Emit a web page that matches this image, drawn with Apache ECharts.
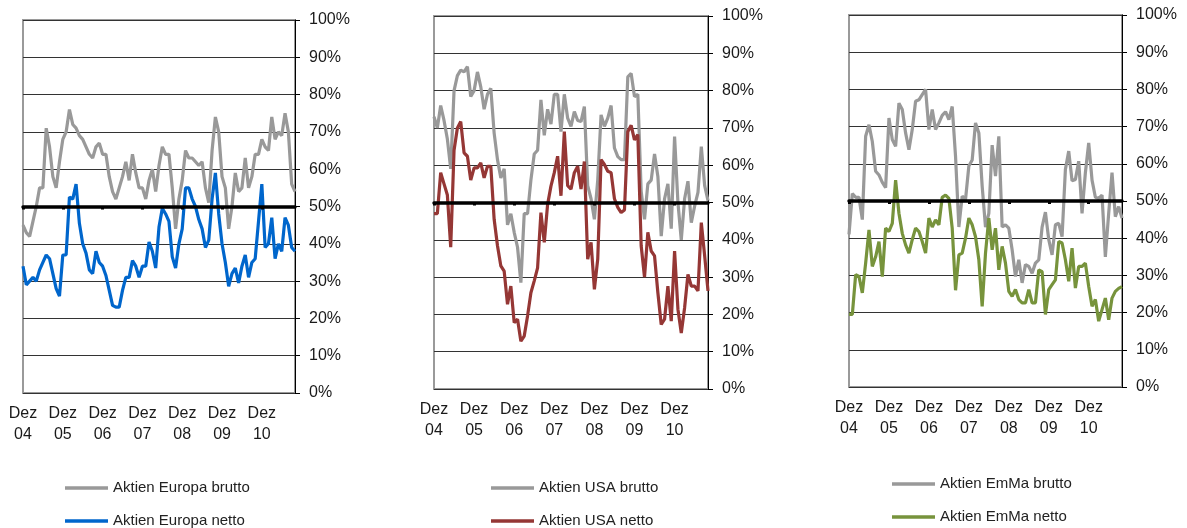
<!DOCTYPE html>
<html><head><meta charset="utf-8">
<script src="https://cdn.jsdelivr.net/npm/echarts@6/dist/echarts.min.js"></script>
<style>html,body{margin:0;padding:0;background:#fff}#c{width:1187px;height:528px}</style>
</head><body><div id="c"></div><script>
// ---- data (percent) ----
const yearLabels = ['04','05','06','07','08','09','10','11'];
const monthNames = ['Dez','Jan','Feb','Mär','Apr','Mai','Jun','Jul','Aug','Sep','Okt','Nov'];
const yTickLabels = ['0%','10%','20%','30%','40%','50%','60%','70%','80%','90%','100%'];

const eurBrutto = [45,43,42,46,50,55,55,71,66,58, 55,62,68,70,76,72,71,69,68,66, 64,63,66,67,64,64,58,54,52,55,
  58,62,57,64,59,55,55,52,57,60, 54,61,66,64,64,55,44,52,57,65, 63,63,62,61,62,55,51,65,74,70,
  58,55,44,50,59,54,55,63,55,58, 64,64,68,66,65,74,68,70,69,75, 70,56,54];
const eurNetto = [34,29,30,31,30,33,35,37,36,32, 28,26,37,37,52.5,52,56,45.5,40,37.5, 33,32,38,35,34,31.5,27.5,23.5,23,23,
  27.5,31,31,35.5,34,31,34,34,40.5,38, 33.5,44.5,49.5,48,46,36.5,33.5,40,44,55, 55,52,50,46.5,44,39,41,52,59,48,
  40,35,28.6,32,33.5,29.5,34,37,31,35, 36,46,56,39,40,47,36,40,38,47, 45,39,38];
const usaBrutto = [73,70,76,72,67,59,80,84,85.5,85, 86.4,78.4,80,85,81,75,79,80.6,68.6,61.5, 56.6,59,44,47,42,38,28.5,47,47,56,
  63,64,77.5,68,75,71,79,79,69,79, 72.6,70.4,74.4,72,71.7,75.7,54.5,51,45.5,56, 73.5,70.4,72.6,76,64.6,62.3,61.5,61.5,83.7,84.6,
  78.4,79,53,45.5,55,56,63,57,41,51, 55,43,67.7,50,40,51,55.7,44.6,49,52.7, 65,54.5,50.5];
const usaNetto = [47,47,58,55,52,38,64,70,71.7,63.3, 62.4,56,59.3,59.3,60.6,56.6,59.7,59.7,45.5,38.4, 33,31.6,22.7,27.6,17.8,18.7,12.8,14.2,19.6,25.8,
  29,32.5,47.3,39.3,49.5,54.4,58,62.4,51.8,69, 54.5,53.6,58,59.7,53.6,61,34.8,39.3,26.7,34.8, 61.5,60.2,58.4,58,51,48.7,47.3,48,69,70.7,
  66.8,68.2,38.4,30,42,37,35.7,25.8,17.3,18.7, 27.6,18.2,37,21.4,15,21.8,30.7,27.6,27.6,26.3, 44.6,35.7,26.3];
const emmaBrutto = [41,52,51,51,45,67.4,70.5,66,58,57, 55,53.6,72.3,66.5,64.7,76.3,74.6,68.3,63.8,69.2, 76.8,77.2,78.6,80,69.2,74.6,69.2,71,73,74,
  71.9,75.4,62,43,51.3,50.4,59.4,61,71,68.3, 54,43,46.7,65,56.7,67.4,43,43.6,42.7,36.9, 29.7,34.2,28,32.9,32.4,30.6,33.3,34.2,43,47,
  39.6,35.5,43.6,44,40.4,58.5,63.4,55.4,55.8,60.7, 46.7,57.6,65.6,55.6,51,50.7,51.6,35,46.7,57.6, 45.8,48.5,45.4];
const emmaNetto = [19.5,19.5,30.2,29.7,25.3,33.3,42.2,32.4,35,39.1, 29.7,42.7,41.8,44,55.6,46.7,41.3,38.2,36,39.6, 42.7,41.8,39.1,36,45.4,43,44.9,43.6,51,51.6,
  50.7,42.7,26,35.5,36,40,45.4,43.6,40.4,34.2, 21.7,36,45.4,36.9,42.7,31.5,37.8,33.3,25.7,24.4, 26.2,23.5,22.6,22.6,26.2,22.6,22.6,31.5,31,19.5,
  26.2,27.5,28.8,39.1,38.7,34.2,28.4,37.3,26.6,32.4, 32.4,33.3,27,21.7,23.5,17.7,20.8,23.9,18.1,23.9, 25.7,26.5,27];

const panels = [
  {names:['Aktien Europa brutto','Aktien Europa netto'], data:[eurBrutto, eurNetto], color:'#0066CC'},
  {names:['Aktien USA brutto','Aktien USA netto'], data:[usaBrutto, usaNetto], color:'#953735'},
  {names:['Aktien EmMa brutto','Aktien EmMa netto'], data:[emmaBrutto, emmaNetto], color:'#77933C'}
];

const categories = [];
for (let i = 0; i < eurBrutto.length; i++) {
  categories.push(monthNames[i % 12] + ' ' + yearLabels[Math.floor((i + 11) / 12)]);
}

// ---- layout ----
const grids = [
  {left:23, top:20, width:272, height:373},
  {left:434, top:16, width:274, height:373},
  {left:849, top:15, width:273, height:372}
];
const legendPos = [{left:65, top:480},{left:491, top:480},{left:892, top:476}];
const FONT = '"Liberation Sans", Arial, sans-serif';
const GREY = '#999999';

const option = {animation:false, backgroundColor:'#fff', grid:[], xAxis:[], yAxis:[], series:[], legend:[]};
panels.forEach((p, k) => {
  const g = grids[k];
  option.grid.push(Object.assign({show:true, borderColor:'#9a9a9a', borderWidth:2, backgroundColor:'transparent'}, g));
  // bottom category axis with labels
  option.xAxis.push({type:'category', gridIndex:k, data:categories, boundaryGap:false,
    axisLine:{show:false}, axisTick:{show:false}, splitLine:{show:false},
    axisLabel:{interval:11, margin:10, fontSize:16, lineHeight:21, color:'#1a1a1a', fontFamily:FONT,
      formatter:v => v.replace(' ', '\n')}});
  // axis crossing at 50%
  option.xAxis.push({type:'category', gridIndex:k, data:categories, boundaryGap:false, position:'bottom',
    offset:-g.height/2,
    axisLine:{show:true, onZero:false, lineStyle:{color:'#000', width:3.5}},
    axisTick:{show:true, interval:11, length:3, lineStyle:{color:'#000', width:3}},
    axisLabel:{show:false}, splitLine:{show:false}, z:5});
  option.yAxis.push({type:'value', gridIndex:k, position:'right', min:0, max:100, interval:10,
    axisLine:{show:true, lineStyle:{color:'#000', width:1}},
    axisTick:{show:true, length:5, lineStyle:{color:'#000'}},
    splitLine:{show:true, lineStyle:{color:'#333', width:1}},
    axisLabel:{margin:14, fontSize:16, color:'#1a1a1a', fontFamily:FONT,
      formatter:v => yTickLabels[Math.round(v / 10)]}});
  const cols = [GREY, p.color];
  p.names.forEach((nm, j) => {
    option.series.push({type:'line', name:nm, xAxisIndex:2*k, yAxisIndex:k, data:p.data[j],
      symbol:'none', color:cols[j], lineStyle:{width:3.2, color:cols[j]}, z:2+j});
  });
  option.legend.push(Object.assign({orient:'vertical', data:p.names, icon:'rect', itemWidth:43, itemHeight:3.5,
    itemGap:17, height:80, width:300, textStyle:{fontSize:15, lineHeight:16, color:'#222', fontFamily:FONT}, padding:0}, legendPos[k]));
});

const chart = echarts.init(document.getElementById('c'), null, {renderer:'canvas'});
chart.setOption(option);
</script></body></html>
